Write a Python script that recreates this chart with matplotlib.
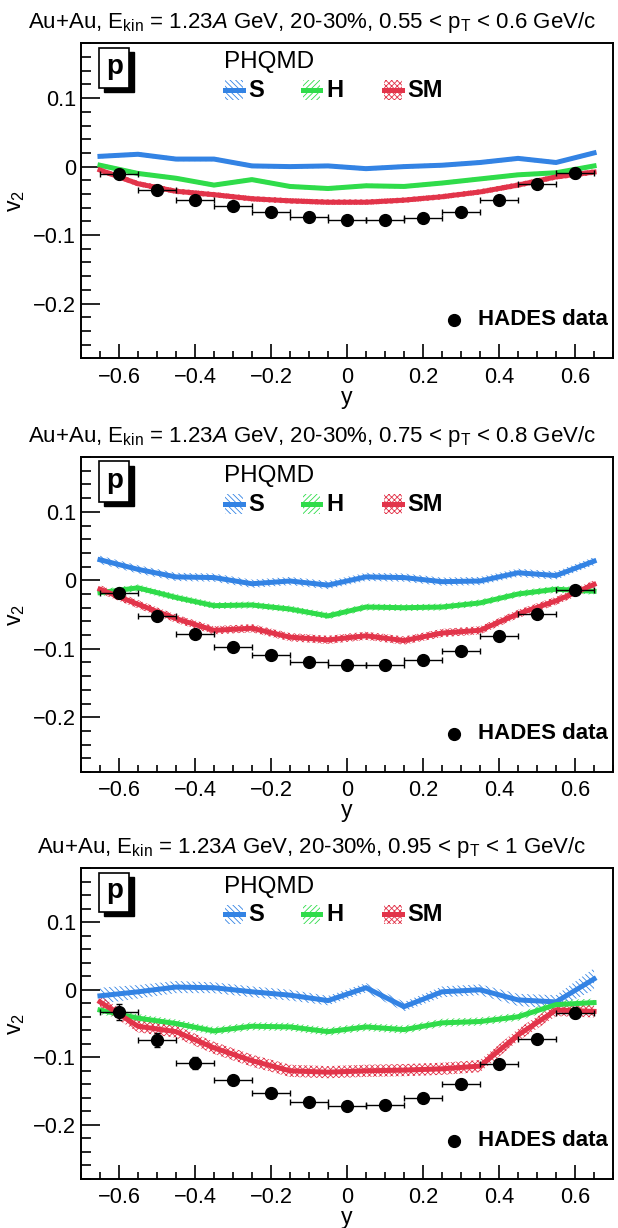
import matplotlib
matplotlib.use("Agg")
from matplotlib import pyplot as plt
from matplotlib.patches import Rectangle
from matplotlib.ticker import MultipleLocator
from matplotlib.lines import Line2D

plt.rcParams['font.family'] = ['Liberation Sans', 'DejaVu Sans']
plt.rcParams['mathtext.fontset'] = 'custom'
plt.rcParams['mathtext.rm'] = 'Liberation Sans'
plt.rcParams['mathtext.it'] = 'Liberation Sans:italic'
plt.rcParams['hatch.linewidth'] = 0.6

# rapidity grid of the model curves and of the data points
y_model = [-0.65, -0.55, -0.45, -0.35, -0.25, -0.15, -0.05,
           0.05, 0.15, 0.25, 0.35, 0.45, 0.55, 0.65]
y_data = [-0.6, -0.5, -0.4, -0.3, -0.2, -0.1, 0.0, 0.1, 0.2, 0.3, 0.4, 0.5, 0.6]
y_data_err = [0.05] * 13

pt_bins = ['0.55 < p$_{\\mathrm{T}}$ < 0.6 GeV/c',
           '0.75 < p$_{\\mathrm{T}}$ < 0.8 GeV/c',
           '0.95 < p$_{\\mathrm{T}}$ < 1 GeV/c']

# panel 1: 0.55 < pT < 0.6
s_1 = [0.015, 0.018, 0.011, 0.011, 0.001, 0.000, 0.001, -0.003, 0.000, 0.002, 0.006, 0.012, 0.006, 0.020]
h_1 = [0.002, -0.010, -0.017, -0.027, -0.019, -0.029, -0.032, -0.028, -0.029, -0.024, -0.018, -0.012, -0.009, 0.001]
sm_1 = [-0.005, -0.025, -0.036, -0.041, -0.047, -0.050, -0.052, -0.052, -0.049, -0.044, -0.037, -0.027, -0.015, -0.008]
s_1_err = [0.003] * 14
h_1_err = [0.003] * 14
sm_1_err = [0.004] * 14
hades_1 = [-0.011, -0.034, -0.049, -0.058, -0.067, -0.073, -0.078, -0.078, -0.075, -0.066, -0.049, -0.025, -0.009]
hades_1_err = [0.003, 0.003, 0.002, 0.002, 0.002, 0.002, 0.002, 0.002, 0.002, 0.002, 0.002, 0.004, 0.007]

# panel 2: 0.75 < pT < 0.8
s_2 = [0.030, 0.016, 0.005, 0.004, -0.005, -0.001, -0.007, 0.005, 0.004, -0.002, -0.001, 0.011, 0.007, 0.028]
h_2 = [-0.018, -0.011, -0.025, -0.037, -0.036, -0.042, -0.052, -0.039, -0.040, -0.039, -0.033, -0.020, -0.013, -0.016]
sm_2 = [-0.013, -0.035, -0.056, -0.073, -0.070, -0.083, -0.087, -0.081, -0.088, -0.077, -0.073, -0.049, -0.030, -0.006]
s_2_err = [0.006] * 14
h_2_err = [0.005] * 14
sm_2_err = [0.006] * 14
hades_2 = [-0.018, -0.052, -0.078, -0.097, -0.109, -0.119, -0.124, -0.123, -0.117, -0.103, -0.081, -0.049, -0.014]
hades_2_err = [0.004, 0.004, 0.003, 0.003, 0.003, 0.003, 0.003, 0.003, 0.003, 0.003, 0.003, 0.004, 0.006]

# panel 3: 0.95 < pT < 1
s_3 = [-0.009, -0.003, 0.004, 0.003, -0.003, -0.008, -0.016, 0.003, -0.025, -0.003, 0.000, -0.015, -0.018, 0.016]
h_3 = [-0.030, -0.042, -0.050, -0.061, -0.054, -0.055, -0.062, -0.055, -0.059, -0.049, -0.047, -0.040, -0.022, -0.019]
sm_3 = [-0.018, -0.054, -0.062, -0.086, -0.105, -0.120, -0.122, -0.120, -0.119, -0.117, -0.113, -0.067, -0.030, -0.032]
s_3_err = [0.012, 0.010, 0.009, 0.008, 0.008, 0.008, 0.007, 0.007, 0.007, 0.008, 0.008, 0.009, 0.010, 0.016]
h_3_err = [0.006] * 14
sm_3_err = [0.009] * 14
hades_3 = [-0.033, -0.074, -0.109, -0.134, -0.153, -0.166, -0.172, -0.170, -0.160, -0.139, -0.110, -0.073, -0.034]
hades_3_err = [0.012, 0.010, 0.009, 0.004, 0.004, 0.004, 0.004, 0.004, 0.004, 0.004, 0.004, 0.004, 0.008]

model_names = ['S', 'H', 'SM']
model_colors = ['#3383e4', '#2fdc4a', '#e2344a']
model_hatches = ['\\\\\\\\\\\\', '//////', 'xxxxxx']

panels = [
    (pt_bins[0], [s_1, h_1, sm_1], [s_1_err, h_1_err, sm_1_err], hades_1, hades_1_err),
    (pt_bins[1], [s_2, h_2, sm_2], [s_2_err, h_2_err, sm_2_err], hades_2, hades_2_err),
    (pt_bins[2], [s_3, h_3, sm_3], [s_3_err, h_3_err, sm_3_err], hades_3, hades_3_err),
]


def fmt(v, p):
    return '0' if abs(v) < 1e-9 else f'{v:.1f}'.replace('-', '\u2212')


fig = plt.figure(figsize=(6.18, 12.28), dpi=100)

fs = 15.7
# (bottom, height) of each panel in figure fractions
frames = [(0.7082, 0.2565), (0.3713, 0.2565), (0.0400, 0.2530)]
for (pt_label, curves, bands, hades, hades_err), (bottom, height) in zip(panels, frames):
    ax = fig.add_axes([0.131, bottom, 0.861, height])
    top = bottom + height

    for vals, errs, col, hat in zip(curves, bands, model_colors, model_hatches):
        lo = [v - e for v, e in zip(vals, errs)]
        hi = [v + e for v, e in zip(vals, errs)]
        ax.fill_between(y_model, lo, hi, facecolor='none', edgecolor=col,
                        hatch=hat, linewidth=0)
        ax.plot(y_model, vals, color=col, lw=3.6, solid_joinstyle='miter')

    ax.errorbar(y_data, hades, xerr=y_data_err, yerr=hades_err, fmt='o',
                color='black', ms=8.5, elinewidth=1, capsize=2, zorder=5)

    ax.set_xlim(-0.7, 0.7)
    ax.set_ylim(-0.28, 0.18)
    ax.xaxis.set_major_locator(MultipleLocator(0.2))
    ax.xaxis.set_minor_locator(MultipleLocator(0.05))
    ax.yaxis.set_major_locator(MultipleLocator(0.1))
    ax.yaxis.set_minor_locator(MultipleLocator(0.02))
    ax.tick_params(axis='x', which='major', direction='in', length=10, width=1.2,
                   labelsize=fs, pad=6)
    ax.tick_params(axis='x', which='minor', direction='in', length=5, width=1.2)
    ax.tick_params(axis='y', which='major', direction='in', length=14, width=1.2,
                   labelsize=fs, pad=3.6)
    ax.tick_params(axis='y', which='minor', direction='in', length=7, width=1.2)
    ax.xaxis.set_major_formatter(plt.FuncFormatter(fmt))
    ax.yaxis.set_major_formatter(plt.FuncFormatter(fmt))
    for sp in ax.spines.values():
        sp.set_linewidth(1.4)

    ax.set_xlabel('y', fontsize=fs + 1, labelpad=-1.5)
    ax.set_ylabel('v$_2$', fontsize=fs + 1, labelpad=4)

    fig.text(0.505, top + 0.0122,
             'Au+Au, E$_{\\mathrm{kin}}$ = 1.23$\\mathit{A}$ GeV, 20-30%, ' + pt_label,
             ha='center', va='baseline', fontsize=16)

    # "p" label box with shadow
    ax.add_patch(Rectangle((0.043, 0.845), 0.057, 0.128, transform=ax.transAxes,
                           facecolor='black', edgecolor='black', zorder=6, clip_on=False))
    ax.add_patch(Rectangle((0.034, 0.858), 0.057, 0.128, transform=ax.transAxes,
                           facecolor='white', edgecolor='black', lw=1.2, zorder=7,
                           clip_on=False))
    ax.text(0.0625, 0.925, 'p', transform=ax.transAxes, ha='center', va='center',
            fontsize=20, fontweight='bold', zorder=8)

    ax.text(0.268, 0.94, 'PHQMD', transform=ax.transAxes, ha='left', va='center',
            fontsize=17.5)
    for name, col, hat, x0 in zip(model_names, model_colors, model_hatches,
                                   [0.271, 0.417, 0.570]):
        ax.add_patch(Rectangle((x0, 0.820), 0.033, 0.063, transform=ax.transAxes,
                               facecolor='none', edgecolor=col, hatch=hat, lw=0))
        ax.add_line(Line2D([x0, x0 + 0.033], [0.852, 0.852], transform=ax.transAxes,
                           color=col, lw=3.6))
        ax.text(x0 + 0.044, 0.850, name, transform=ax.transAxes, ha='left',
                va='center', fontsize=17, fontweight='bold')

    ax.plot([0.7013], [0.122], 'o', color='black', ms=8.5, transform=ax.transAxes)
    ax.text(0.746, 0.122, 'HADES data', transform=ax.transAxes, ha='left',
            va='center', fontsize=16, fontweight='bold')

fig.savefig('out.png', dpi=100)
